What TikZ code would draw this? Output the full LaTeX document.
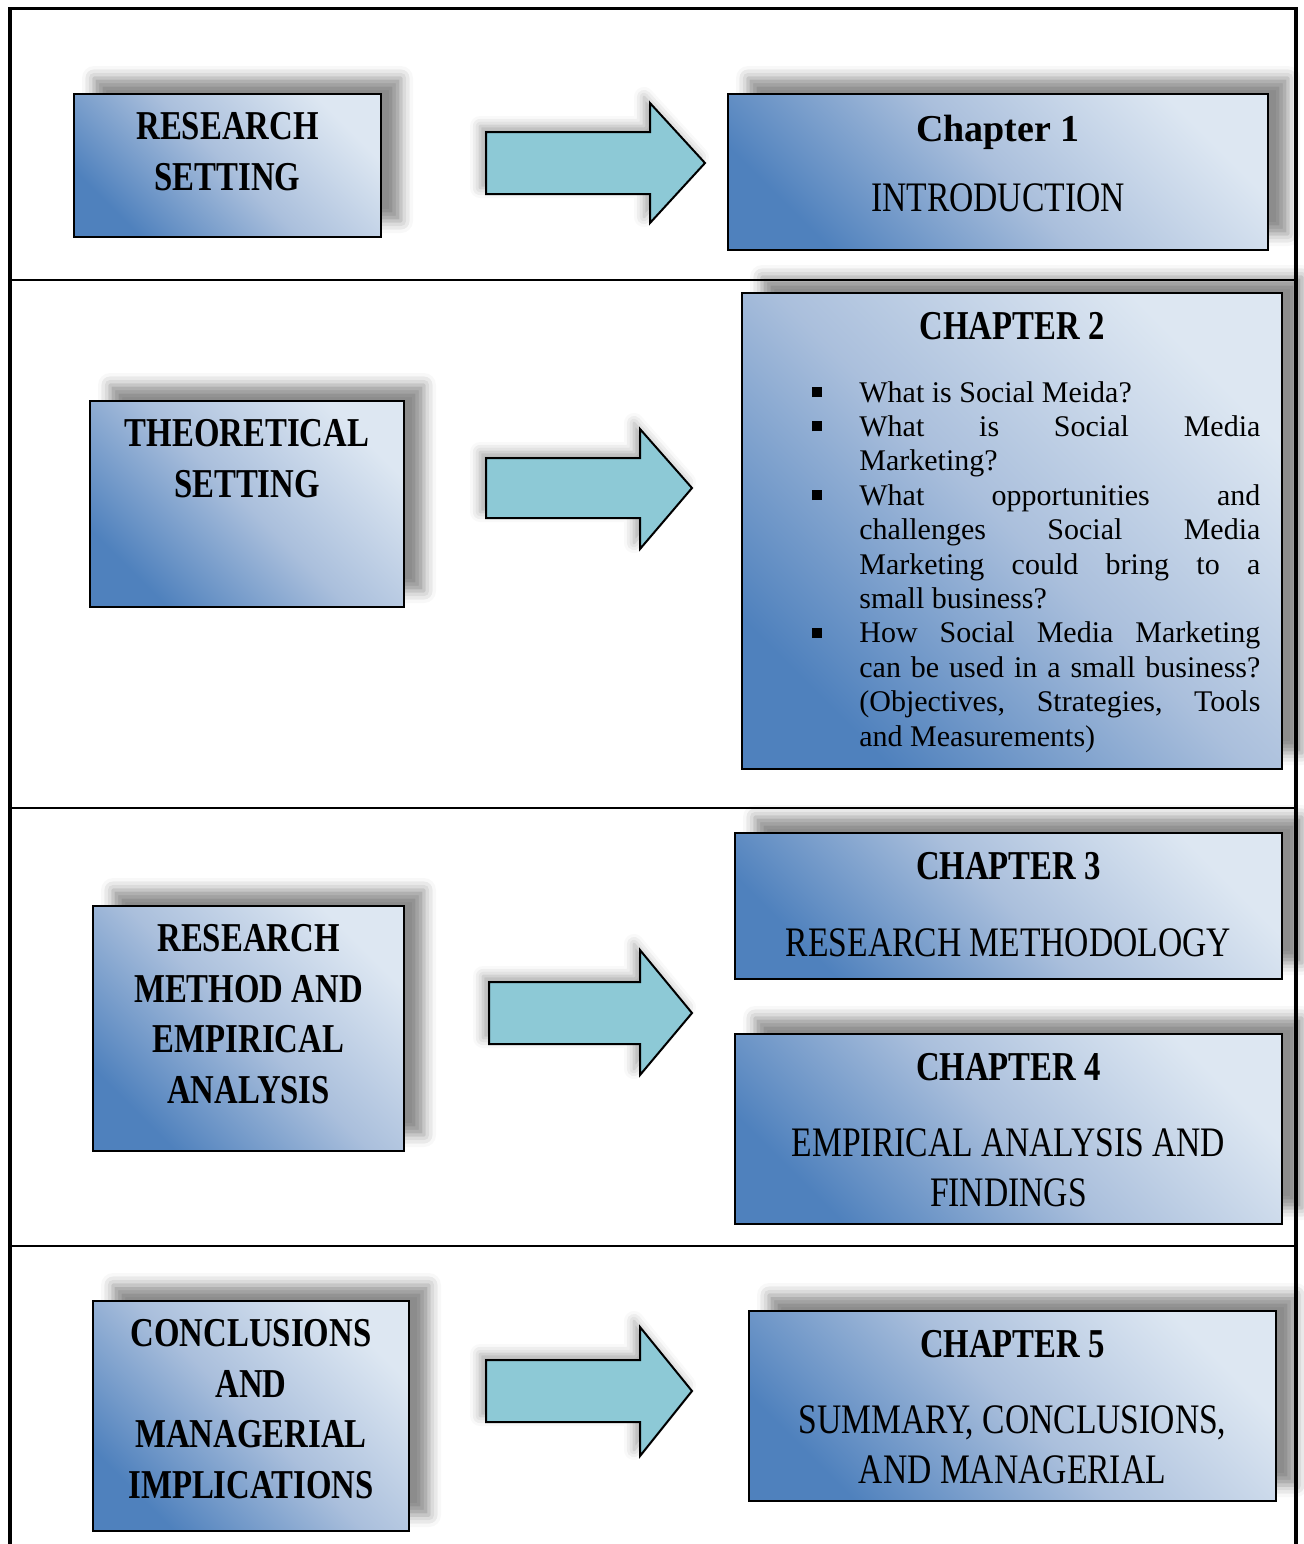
\documentclass[tikz,border=0pt]{standalone}
\usepackage{fontspec}
\setmainfont{Liberation Serif}
\newfontfamily\capfont[FakeStretch=0.8]{Liberation Serif}
\usetikzlibrary{shadows.blur}
\setlength{\parindent}{0pt}
\definecolor{boxdark}{RGB}{79,129,189}
\definecolor{boxmid}{RGB}{170,191,220}
\definecolor{boxlight}{RGB}{221,231,242}
\definecolor{arrowfill}{RGB}{141,201,214}
\newlength{\bodyw}
\setlength{\bodyw}{200.5pt}
\newcommand{\jline}[1]{\makebox[\bodyw][s]{#1}}
\newcommand{\sqbul}{\llap{\rule[2.5pt]{5pt}{5pt}\hspace{18.5pt}}}
\tikzset{
	chapbox/.style={draw=black, line width=0.8pt, inner sep=0pt,
		bottom color=boxdark, top color=boxlight, middle color=boxmid, shading angle=-45,
		blur shadow={shadow xshift=10pt, shadow yshift=8pt, shadow blur radius=6pt, shadow opacity=45}},
	bigarrow/.style={draw=black, line width=1pt, fill=arrowfill,
		blur shadow={shadow xshift=-3pt, shadow yshift=3pt, shadow blur radius=5pt, shadow opacity=35}},
	headtxt/.style={font=\capfont\bfseries\fontsize{20.5}{25.3}\selectfont, align=center, anchor=base, inner sep=0pt},
	subtxt/.style={font=\capfont\fontsize{21}{25}\selectfont, align=center, anchor=base, inner sep=0pt},
}
\begin{document}
\begin{tikzpicture}[x=0.5pt, y=-0.5pt, line join=miter]
	\useasboundingbox (0,0) rectangle (1303,1544);
	% frame
	\draw[line width=2pt] (10,1560) -- (10,7);
	\draw[line width=2pt] (1296,1560) -- (1296,7);
	\draw[line width=1.6pt] (9,8.5) -- (1297,8.5);
	\draw[line width=1.2pt] (10,280) -- (1296,280);
	\draw[line width=1.2pt] (10,808) -- (1296,808);
	\draw[line width=1.2pt] (10,1246) -- (1296,1246);
	% boxes
	\node[chapbox, minimum width=153.5pt, minimum height=71.5pt] (rs) at (227.5,165.5) {};
	\node[chapbox, minimum width=270pt, minimum height=78pt] (ch1) at (998,172) {};
	\node[chapbox, minimum width=157pt, minimum height=103pt] (ts) at (247,504) {};
	\node[chapbox, minimum width=270pt, minimum height=238pt] (ch2) at (1012,531) {};
	\node[chapbox, minimum width=155.5pt, minimum height=122.5pt] (rm) at (248.5,1028.5) {};
	\node[chapbox, minimum width=273.5pt, minimum height=73pt] (ch3) at (1008.5,906) {};
	\node[chapbox, minimum width=273.5pt, minimum height=95pt] (ch4) at (1008.5,1129) {};
	\node[chapbox, minimum width=158pt, minimum height=115pt] (cm) at (251,1416) {};
	\node[chapbox, minimum width=263.5pt, minimum height=95pt] (ch5) at (1012.5,1406) {};
	% arrows
	\draw[bigarrow] (486,132) -- (650,132) -- (650,103) -- (705,163) -- (650,223) -- (650,194) -- (486,194) -- cycle;
	\draw[bigarrow] (486,458) -- (640,458) -- (640,429) -- (692,488) -- (640,549) -- (640,518) -- (486,518) -- cycle;
	\draw[bigarrow] (489,982) -- (640,982) -- (640,950) -- (692,1013) -- (640,1075) -- (640,1044) -- (489,1044) -- cycle;
	\draw[bigarrow] (486,1360) -- (640,1360) -- (640,1327) -- (692,1391) -- (640,1456) -- (640,1422) -- (486,1422) -- cycle;
	% left texts (base = last line)
	\node[headtxt] (rs-t) at (227.5,190.5) {RESEARCH\\SETTING};
	\node[headtxt] (ts-t) at (247,497.5) {THEORETICAL\\SETTING};
	\node[headtxt] (rm-t) at (248.5,1103.5) {RESEARCH\\METHOD AND\\EMPIRICAL\\ANALYSIS};
	\node[headtxt] (cm-t) at (251,1498.5) {CONCLUSIONS\\AND\\MANAGERIAL\\IMPLICATIONS};
	% chapter texts
	\node[headtxt, font=\bfseries\fontsize{19}{23}\selectfont] (ch1-h) at (998,141) {Chapter 1};
	\node[subtxt] (ch1-t) at (998,211.5) {INTRODUCTION};
	\node[headtxt] (ch2-h) at (1012,339) {CHAPTER 2};
	\node[anchor=base west, inner sep=0pt, text width=200.5pt, align=left,
		font=\fontsize{15}{17.2}\selectfont] (ch2-t) at (859,402) {%
		\spaceskip=0pt\xspaceskip=0pt
		\sqbul What is Social Meida?\\
		\jline{\sqbul What is Social Media}\\
		Marketing?\\
		\jline{\sqbul What opportunities and}\\
		\jline{challenges Social Media}\\
		\jline{Marketing could bring to a}\\
		small business?\\
		\jline{\sqbul How Social Media Marketing}\\
		\jline{can be used in a small business?}\\
		\jline{(Objectives, Strategies, Tools}\\
		and Measurements)};
	\node[headtxt] (ch3-h) at (1008.5,879) {CHAPTER 3};
	\node[subtxt] (ch3-t) at (1008.5,956.5) {RESEARCH METHODOLOGY};
	\node[headtxt] (ch4-h) at (1008.5,1080) {CHAPTER 4};
	\node[subtxt] (ch4-t) at (1008.5,1206.5) {EMPIRICAL ANALYSIS AND\\FINDINGS};
	\node[headtxt] (ch5-h) at (1012.5,1357) {CHAPTER 5};
	\node[subtxt] (ch5-t) at (1012.5,1483.5) {SUMMARY, CONCLUSIONS,\\AND MANAGERIAL};
\end{tikzpicture}
\end{document}
